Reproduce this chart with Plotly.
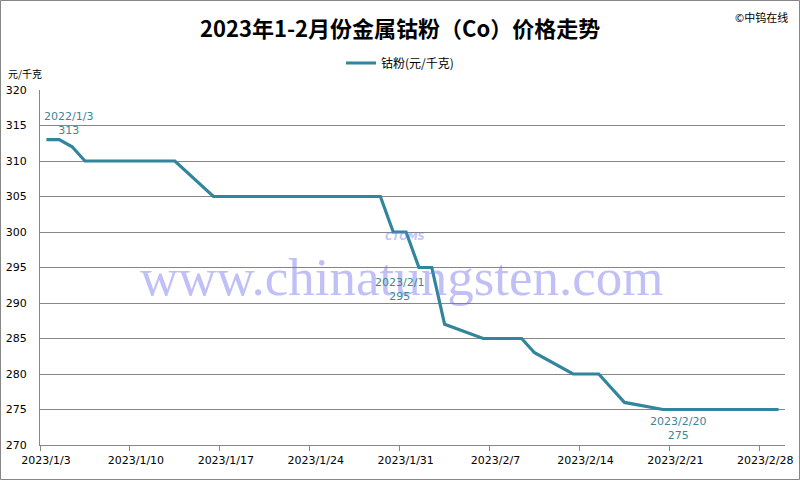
import pandas as pd
import plotly.graph_objects as go

# ---- data ----
dates = ["2023-01-03", "2023-01-04", "2023-01-05", "2023-01-06", "2023-01-09", "2023-01-10",
         "2023-01-11", "2023-01-12", "2023-01-13", "2023-01-16", "2023-01-17", "2023-01-18",
         "2023-01-19", "2023-01-20", "2023-01-28", "2023-01-29", "2023-01-30", "2023-01-31",
         "2023-02-01", "2023-02-02", "2023-02-03", "2023-02-06", "2023-02-07", "2023-02-08",
         "2023-02-09", "2023-02-10", "2023-02-13", "2023-02-14", "2023-02-15", "2023-02-16",
         "2023-02-17", "2023-02-20", "2023-02-21", "2023-02-22", "2023-02-23", "2023-02-24",
         "2023-02-27", "2023-02-28", "2023-03-01"]
prices = [313, 313, 312, 310, 310, 310,
          310, 310, 310, 305, 305, 305,
          305, 305, 305, 305, 300, 300,
          295, 295, 287, 285, 285, 285,
          285, 283, 280, 280, 280, 278,
          276, 275, 275, 275, 275, 275,
          275, 275, 275]
series_name = "钴粉(元/千克)"
tick_dates = ["2023-01-03", "2023-01-10", "2023-01-17", "2023-01-24", "2023-01-31",
              "2023-02-07", "2023-02-14", "2023-02-21", "2023-02-28"]
tick_labels = ["2023/1/3", "2023/1/10", "2023/1/17", "2023/1/24", "2023/1/31",
               "2023/2/7", "2023/2/14", "2023/2/21", "2023/2/28"]
label_dates = ["2023-01-03", "2023-02-01", "2023-02-20"]
label_texts = ["2022/1/3", "2023/2/1", "2023/2/20"]
label_values = [313, 295, 275]
y_ticks = [270, 275, 280, 285, 290, 295, 300, 305, 310, 315, 320]

title = "2023年1-2月份金属钴粉（Co）价格走势"
LINE = "#31859C"
GRID = "#868686"

# points sit at the middle of each day on a date axis
x_pts = pd.to_datetime(dates) + pd.Timedelta(hours=12)

W, H = 800, 480
ml, mr, mt, mb = 40, 15, 90, 35

fig = go.Figure()
fig.add_trace(go.Scatter(
    x=x_pts, y=prices, mode="lines", name=series_name,
    line=dict(color=LINE, width=3.2), hoverinfo="x+y"))

pw = W - ml - mr
ph = H - mt - mb
def px_x(p):
    return (p - ml) / pw
def px_y(p):
    return (H - mb - p) / ph

# watermark text (drawn first, underneath the labels)
fig.add_annotation(xref="paper", yref="paper", x=px_x(402), y=px_y(277),
                   text="www.chinatungsten.com", showarrow=False,
                   xanchor="center", yanchor="middle",
                   font=dict(family="Liberation Serif", size=53, color="rgba(115,115,238,0.45)"))
fig.add_annotation(xref="paper", yref="paper", x=px_x(405), y=px_y(236),
                   text="<b><i>CTOMS</i></b>", showarrow=False,
                   xanchor="center", yanchor="middle",
                   font=dict(family="DejaVu Sans", size=10, color="rgba(120,120,238,0.45)"))

# labelled points (date on first line, value on second)
shifts = [(22, 16.5), (-19, -21.5), (15, -18.7)]
for d, t, v, (dx, dy) in zip(label_dates, label_texts, label_values, shifts):
    xd = pd.Timestamp(d) + pd.Timedelta(hours=12)
    fig.add_annotation(x=xd, y=v, text=t + "<br>" + str(v), showarrow=False,
                       xshift=dx, yshift=dy, xanchor="center", yanchor="middle",
                       align="center",
                       font=dict(family="DejaVu Sans", size=11, color="#3C8697"))

# title and other texts
fig.add_annotation(xref="paper", yref="paper", x=px_x(400), y=px_y(27),
                   text="<b>" + title + "</b>", showarrow=False,
                   xanchor="center", yanchor="middle",
                   font=dict(family="Noto Sans CJK SC", size=22, color="#000000"))
fig.add_annotation(xref="paper", yref="paper", x=px_x(790), y=px_y(17),
                   text="©中钨在线", showarrow=False, xanchor="right", yanchor="middle",
                   font=dict(family="Noto Sans CJK SC", size=11, color="#000000"))
fig.add_annotation(xref="paper", yref="paper", x=px_x(6), y=px_y(73),
                   text="元/千克", showarrow=False, xanchor="left", yanchor="middle",
                   font=dict(family="Noto Sans CJK SC", size=10, color="#000000"))

# outer border
fig.add_shape(type="rect", xref="paper", yref="paper",
              x0=px_x(0.5), x1=px_x(W - 0.5), y0=px_y(H - 0.5), y1=px_y(0.5),
              line=dict(color=GRID, width=1), fillcolor="rgba(0,0,0,0)", layer="below")

fig.update_layout(
    width=W, height=H,
    margin=dict(l=ml, r=mr, t=mt, b=mb, autoexpand=False),
    paper_bgcolor="white", plot_bgcolor="white",
    showlegend=True,
    legend=dict(orientation="h", x=px_x(400), xanchor="center", y=px_y(63), yanchor="middle",
                font=dict(family="Noto Sans CJK SC", size=12, color="#000000"),
                bgcolor="rgba(0,0,0,0)", itemwidth=30),
    xaxis=dict(
        type="date", automargin=False,
        range=[pd.Timestamp("2023-01-03"), pd.Timestamp("2023-03-02")],
        tickvals=pd.to_datetime(tick_dates), ticktext=tick_labels,
        ticklabelshift=6, ticks="outside", ticklen=5, tickcolor=GRID, tickwidth=1,
        showline=True, linecolor=GRID, linewidth=1, showgrid=False, zeroline=False,
        tickfont=dict(family="DejaVu Sans", size=11, color="#000000"),
    ),
    yaxis=dict(
        range=[270, 320], tickvals=y_ticks, automargin=False,
        showgrid=True, gridcolor=GRID, gridwidth=1,
        showline=True, linecolor=GRID, linewidth=1, zeroline=False,
        ticks="", ticklabelstandoff=10,
        tickfont=dict(family="DejaVu Sans", size=11, color="#000000"),
    ),
)

fig.write_html("out.html", config={"displayModeBar": False},
               post_script="document.body.style.margin='0';")
